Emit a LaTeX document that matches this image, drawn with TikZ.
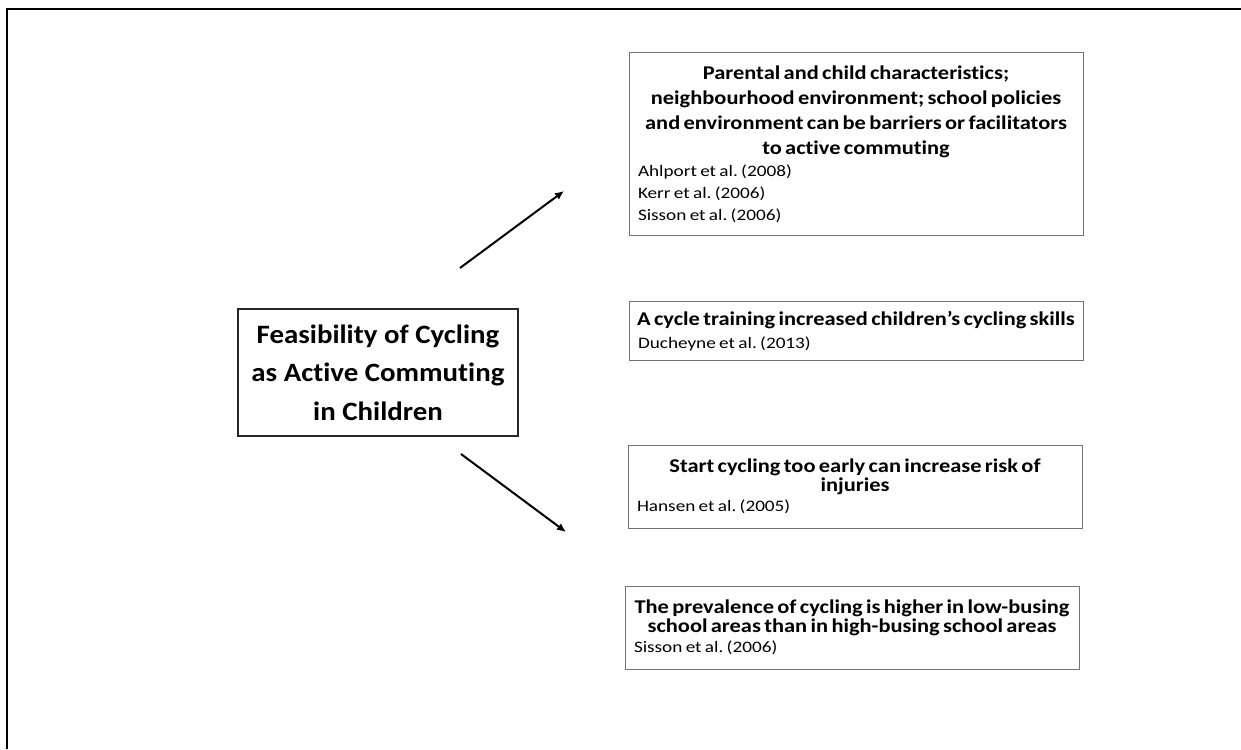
\documentclass[tikz,border=0pt]{standalone}
\usepackage{fontspec}
\setmainfont[Ligatures=NoCommon, FakeStretch=1.2]{Carlito}
\newfontfamily\headfont[Ligatures=NoCommon, FakeStretch=1.15]{Carlito}
\newfontfamily\topicfont[Ligatures=NoCommon, FakeStretch=1.09]{Carlito}
\usepackage{tikz}
\usetikzlibrary{arrows.meta}
\frenchspacing

% heading of a finding, optional arg = line distance
\newcommand{\headline}[2][20]{{\centering\headfont\bfseries\fontsize{19.5}{#1}\selectfont #2\par}}
% references under a finding
\newcommand{\reflines}[2][20]{{\leftskip=9pt\fontsize{16}{#1}\selectfont #2\par}}

\begin{document}
\begin{tikzpicture}[x=1pt, y=-1pt,
    findbox/.style={draw=gray!90!black, line width=1pt, text width=454pt,
      align=left, inner xsep=0pt, inner ysep=0pt, anchor=center},
    mainbox/.style={draw=black!85, line width=2pt, align=center,
      minimum width=280pt, minimum height=127pt, inner sep=0pt,
      font=\topicfont\bfseries\fontsize{26.5}{38.5}\selectfont},
    link/.style={line width=2pt, -{Latex[length=9pt,width=8pt]}}]
    \useasboundingbox (0,0) rectangle (1241,749);

    % Frame
    \draw[line width=2pt] (7,749) -- (7,9) -- (1241,9);

    % Central topic
    \node[mainbox] (topic) at (378,372.5) {Feasibility of Cycling\\as Active Commuting\\in Children};

    % Findings
    \node[findbox, minimum height=182pt] (barriers) at (856,144) {%
      \headline[25]{Parental and child characteristics;\\neighbourhood environment; school policies\\and environment can be barriers or facilitators\\to active commuting}%
      \reflines[22]{Ahlport et al. (2008)\\Kerr et al. (2006)\\Sisson et al. (2006)}};
    \node[findbox, minimum height=59pt] (training) at (856,331) {%
      \headline{A cycle training increased children’s cycling skills}%
      \reflines[23]{Ducheyne et al. (2013)}};
    \node[findbox, minimum height=83pt] (injury) at (855,486.5) {%
      \headline[19.5]{Start cycling too early can increase risk of\\injuries}%
      \reflines{Hansen et al. (2005)}};
    \node[findbox, minimum height=83pt] (busing) at (852,627.5) {%
      \headline[19.5]{The prevalence of cycling is higher in low-busing\\school areas than in high-busing school areas}%
      \reflines{Sisson et al. (2006)}};

    % Arrows
    \coordinate (upfrom) at (460,268);
    \coordinate (upto) at (564,191);
    \coordinate (downfrom) at (461,454);
    \coordinate (downto) at (566,532);
    \draw[link] (upfrom) -- (upto);
    \draw[link] (downfrom) -- (downto);
\end{tikzpicture}
\end{document}
